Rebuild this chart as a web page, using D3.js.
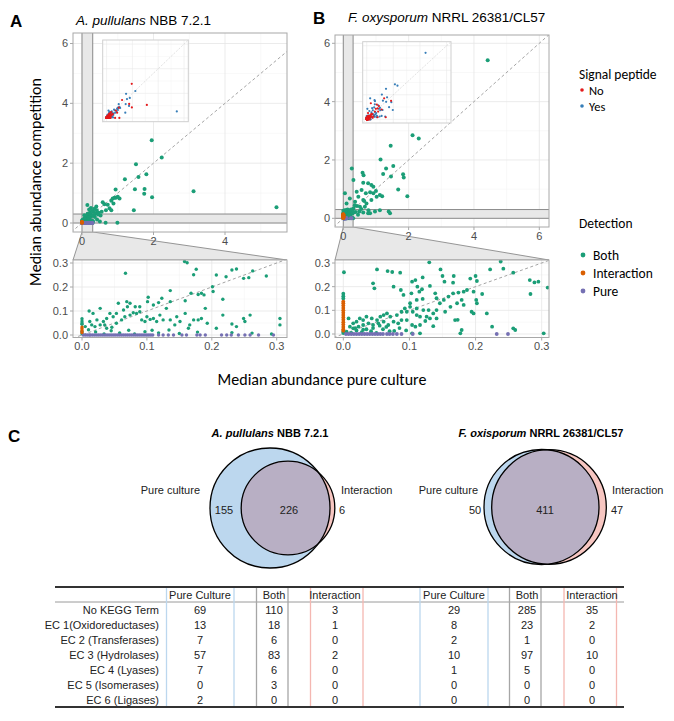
<!DOCTYPE html>
<html><head><meta charset="utf-8">
<script src="https://cdn.jsdelivr.net/npm/d3@7"></script>
<style>body{margin:0;background:#fff}svg{display:block}</style>
</head><body>
<svg id="fig" width="674" height="721"></svg>
<script>
// ---------------- DATA ----------------
// Panel A (A. pullulans) : Both = [pure, competition, signalPeptide(1=Yes)]
const aBoth = [
[1.95,2.77,0],[2.23,2.19,1],[1.51,1.96,1],[1.20,1.46,0],[1.58,1.54,1],[1.80,1.63,1],[0.94,1.12,1],[1.48,1.13,1],
[1.75,1.14,0],[1.74,0.98,1],[1.96,0.86,0],[3.12,1.06,0],[5.44,0.53,1],[1.45,0.43,1],[0.99,0.01,0],[0.58,0.69,1],
[0.63,0.63,1],[0.72,0.61,0],[0.82,0.74,1],[0.86,0.82,1],[0.91,0.84,1],[0.95,0.84,0],[1.00,0.88,1],[1.05,0.82,1],
[0.77,0.49,1],[0.82,0.43,0],[0.67,0.43,1],[0.55,0.38,1],[0.47,0.34,0],[0.41,0.43,1],[0.32,0.38,1],[0.22,0.34,0],
[0.15,0.60,1],[0.88,0.65,1],[0.66,0.01,0],[0.40,0.55,1],[0.35,0.48,0],[0.25,0.50,1],[0.38,0.32,1],[0.45,0.28,0],
[0.52,0.25,1],[0.36,0.20,0],[0.42,0.12,1],[0.50,0.05,1],[0.28,0.40,0],[0.20,0.45,1],[0.33,0.26,0],
[0.158,0.306,1],[0.162,0.301,0],[0.067,0.257,1],[0.176,0.274,1],[0.172,0.251,0],[0.207,0.250,1],[0.222,0.243,1],
[0.231,0.271,0],[0.238,0.275,1],[0.263,0.267,1],[0.249,0.236,0],[0.257,0.239,1],[0.284,0.246,1],[0.201,0.201,1],
[0.202,0.181,0],[0.217,0.149,1],[0.168,0.174,1],[0.179,0.169,0],[0.184,0.174,1],[0.188,0.167,0],[0.159,0.143,1],
[0.136,0.185,1],[0.123,0.153,0],[0.118,0.135,1],[0.102,0.157,0],[0.101,0.139,1],[0.110,0.125,0],[0.136,0.139,1],
[0.130,0.111,0],[0.146,0.076,1],[0.100,0.076,0],[0.089,0.097,1],[0.082,0.118,0],[0.074,0.132,1],[0.069,0.139,0],
[0.056,0.132,1],[0.070,0.118,0],[0.064,0.104,0],[0.053,0.090,1],[0.048,0.076,0],[0.043,0.090,0],[0.038,0.069,1],
[0.033,0.056,0],[0.028,0.111,0],[0.011,0.100,1],[0.017,0.090,0],[0.023,0.063,0],[0.012,0.056,1],[0.005,0.035,0],
[0.015,0.042,0],[0.020,0.035,1],[0.028,0.042,0],[0.035,0.042,0],[0.038,0.028,1],[0.046,0.032,0],[0.053,0.049,0],
[0.061,0.063,1],[0.066,0.076,0],[0.074,0.083,0],[0.079,0.093,1],[0.084,0.090,0],[0.089,0.118,1],[0.092,0.063,0],
[0.097,0.056,0],[0.105,0.065,1],[0.110,0.069,0],[0.115,0.056,1],[0.120,0.083,0],[0.125,0.063,1],[0.136,0.063,0],
[0.143,0.042,1],[0.151,0.056,0],[0.159,0.090,1],[0.166,0.042,0],[0.172,0.063,1],[0.179,0.063,0],[0.184,0.069,1],
[0.190,0.111,0],[0.193,0.049,1],[0.207,0.028,0],[0.217,0.083,1],[0.231,0.046,0],[0.238,0.035,1],[0.249,0.069,0],
[0.251,0.056,1],[0.259,0.083,0],[0.305,0.069,1],[0.305,0.042,0],[0.231,0.010,1],[0.262,0.008,0],[0.292,0.004,1],
[0.021,0.013,0],[0.034,0.004,0],[0.045,0.018,1],[0.058,0.009,0],[0.072,0.020,0],[0.081,0.004,1],[0.097,0.014,0],
[0.108,0.020,1],[0.118,0.009,0],[0.134,0.021,0],[0.150,0.006,1],[0.164,0.028,0],[0.178,0.012,1],[0.010,0.022,0],
[0.000,0.005,0],[0.000,0.015,0],[0.000,0.045,1],[0.000,0.050,0],[0.000,0.058,0],[0.000,0.068,1]
];
// Interaction only (pure culture = 0): [competition, signalPeptide]
const aInteraction = [[0.010,0],[0.018,0],[0.026,1],[0.033,0]];
// Pure only (competition = 0): [pure, signalPeptide]
const aPure = [[0.002,0],[0.005,0],[0.008,1],[0.011,0],[0.013,0],[0.016,1],[0.019,0],[0.022,0],[0.025,0],[0.028,1],
[0.031,0],[0.034,0],[0.037,1],[0.040,0],[0.043,0],[0.046,0],[0.049,1],[0.052,0],[0.055,0],[0.058,0],[0.061,1],
[0.064,0],[0.067,0],[0.070,0],[0.073,1],[0.076,0],[0.079,0],[0.082,1],[0.085,0],[0.088,0],[0.091,0],[0.094,1],
[0.097,0],[0.100,0],[0.103,1],[0.106,0],[0.109,0],[0.118,0],[0.125,1],[0.133,0],[0.141,0],[0.154,1],[0.161,0],
[0.177,0],[0.182,1],[0.190,0],[0.215,0],[0.223,1],[0.230,0],[0.241,0],[0.251,1],[0.259,0],[0.272,0],[0.295,0]];

// Panel B (F. oxysporum)
const bBoth = [
[4.42,5.42,1],[2.12,2.85,1],[2.31,2.74,1],[1.45,2.49,1],[1.14,2.02,1],[1.53,1.79,1],[1.31,1.71,0],[1.22,1.52,1],
[1.46,1.43,1],[1.83,1.51,0],[1.85,1.40,1],[1.68,0.99,1],[1.96,0.76,1],[0.26,1.71,1],[0.59,1.56,1],[0.62,1.48,1],
[0.31,1.31,0],[0.61,1.22,1],[0.76,1.20,0],[0.86,1.14,1],[0.92,1.08,0],[0.05,0.86,1],[0.69,0.86,0],[1.00,0.94,1],
[1.19,0.76,1],[1.39,0.23,1],[0.76,0.17,1],[0.42,0.42,0],[0.64,0.59,1],[0.41,0.91,1],[0.56,0.97,1],[0.82,0.89,0],
[0.46,0.74,1],[0.61,0.63,0],[0.36,0.57,1],[0.20,0.68,1],[0.10,0.51,0],[0.71,0.51,1],[0.86,0.63,0],[0.51,0.40,1],
[0.31,0.34,0],[1.02,0.74,1],[0.92,0.86,1],[1.12,0.80,0],[0.77,0.28,1],[0.61,0.20,1],[0.82,0.17,0],[0.97,0.23,1],
[1.12,0.28,1],[1.43,0.17,0],[0.66,0.40,1],[0.49,0.23,0],[0.38,0.22,1],[0.45,0.12,0],[0.55,0.32,1],[0.35,0.45,0],
[0.130,0.303,1],[0.147,0.273,0],[0.051,0.273,1],[0.067,0.266,1],[0.074,0.262,0],[0.086,0.259,1],[0.001,0.261,1],
[0.109,0.228,0],[0.104,0.221,1],[0.120,0.239,1],[0.150,0.245,0],[0.153,0.221,1],[0.167,0.245,1],[0.166,0.217,0],
[0.192,0.234,1],[0.200,0.245,1],[0.202,0.224,0],[0.222,0.273,1],[0.238,0.306,1],[0.242,0.276,0],[0.257,0.259,1],
[0.282,0.228,1],[0.289,0.218,0],[0.295,0.221,1],[0.283,0.169,1],[0.309,0.196,0],[0.045,0.214,1],[0.047,0.193,1],
[0.076,0.200,0],[0.087,0.186,1],[0.091,0.165,1],[0.103,0.172,0],[0.112,0.200,1],[0.115,0.179,1],[0.119,0.189,0],
[0.131,0.203,1],[0.139,0.172,1],[0.141,0.151,0],[0.120,0.148,1],[0.111,0.144,0],[0.101,0.130,1],[0.093,0.108,0],
[0.101,0.115,1],[0.105,0.094,0],[0.111,0.108,1],[0.121,0.101,0],[0.129,0.101,1],[0.136,0.087,0],[0.141,0.101,1],
[0.146,0.130,1],[0.152,0.144,0],[0.159,0.158,1],[0.166,0.172,1],[0.174,0.175,0],[0.182,0.179,1],[0.187,0.186,1],
[0.197,0.179,0],[0.202,0.130,1],[0.201,0.144,1],[0.210,0.169,0],[0.217,0.087,1],[0.179,0.144,1],[0.182,0.123,0],
[0.172,0.130,1],[0.162,0.115,0],[0.154,0.094,1],[0.141,0.066,0],[0.131,0.066,1],[0.126,0.073,0],[0.116,0.073,1],
[0.111,0.080,0],[0.096,0.094,1],[0.088,0.094,0],[0.081,0.080,1],[0.071,0.073,0],[0.066,0.087,1],[0.061,0.080,0],
[0.056,0.073,0],[0.051,0.059,1],[0.043,0.066,0],[0.035,0.073,1],[0.030,0.059,0],[0.025,0.066,0],[0.020,0.052,1],
[0.015,0.045,0],[0.008,0.066,1],[0.010,0.031,0],[0.015,0.024,0],[0.023,0.031,1],[0.030,0.038,0],[0.038,0.045,0],
[0.045,0.038,1],[0.053,0.045,0],[0.061,0.052,1],[0.068,0.038,0],[0.076,0.052,1],[0.083,0.045,0],[0.088,0.059,1],
[0.096,0.059,0],[0.104,0.038,1],[0.109,0.031,0],[0.116,0.038,1],[0.124,0.055,0],[0.169,0.059,1],[0.194,0.094,1],
[0.197,0.087,0],[0.179,0.017,1],[0.225,0.031,1],[0.260,0.017,1],[0.303,0.003,1],[0.077,0.013,0],[0.104,0.003,0],
[0.116,0.003,1],[0.177,0.003,0],[0.257,0.024,1],[0.136,0.033,0],[0.173,0.060,1],[0.005,0.010,0],[0.012,0.005,0],
[0.020,0.015,1],[0.028,0.008,0],[0.035,0.020,0],[0.042,0.012,1],[0.050,0.005,0],[0.018,0.025,0],[0.030,0.018,1],
[0.045,0.025,0],[0.060,0.020,1],[0.070,0.012,0],[0.065,0.030,0],[0.055,0.035,1],[0.085,0.025,0],[0.095,0.015,1],
[0.000,0.170,1],[0.000,0.160,0],[0.000,0.150,1],[0.000,0.004,0],[0.000,0.010,0]
];
const bInteraction = [[0.137,1],[0.130,0],[0.120,1],[0.110,0],[0.100,1],[0.090,0],[0.080,0],[0.070,1],[0.060,0],
[0.050,0],[0.040,1],[0.030,0],[0.020,0],[0.014,1]];
const bPure = [[0.004,0],[0.008,0],[0.012,1],[0.016,0],[0.020,0],[0.024,1],[0.028,0],[0.032,0],[0.036,1],[0.040,0],
[0.044,0],[0.048,1],[0.052,0],[0.056,0],[0.060,1],[0.066,0],[0.070,0],[0.075,1],[0.081,0],[0.088,0],[0.105,1],
[0.232,0],[0.249,1]];

// tick labels / categories
const topXTicksA = [0, 2, 4];
const topXTicksB = [0, 2, 4, 6];
const topYTicks = [0, 2, 4, 6];
const zoomTicks = [0, 0.1, 0.2, 0.3];
const detectionLabels = ["Both", "Interaction", "Pure"];
const signalLabels = ["No", "Yes"];

// Venn counts: [pure only, both, interaction only]
const vennA = [155, 226, 6];
const vennB = [50, 411, 47];
const vennSetLabels = ["Pure culture", "Interaction"];

// KEGG table
const keggRows = ["No KEGG Term","EC 1(Oxidoreductases)","EC 2 (Transferases)","EC 3 (Hydrolases)","EC 4 (Lyases)","EC 5 (Isomerases)","EC 6 (Ligases)"];
const keggCols = ["Pure Culture","Both","Interaction"];
const aPureKegg  = [69,13,7,57,7,0,2];
const aBothKegg  = [110,18,6,83,6,3,0];
const aInterKegg = [3,1,0,2,0,0,0];
const bPureKegg  = [29,8,2,10,1,0,0];
const bBothKegg  = [285,23,1,97,5,0,0];
const bInterKegg = [35,2,0,10,0,0,0];

// ---------------- DRAWING ----------------
const svg = d3.select("#fig");
const COL = {Both:"#1b9e77", Interaction:"#d95f02", Pure:"#7570b3"};
const SP = ["#e41a1c", "#377eb8"];
const SANS = "'Liberation Sans', Arial, sans-serif";
const CAL = "Carlito, Lato, 'Open Sans', sans-serif";
const NARROW = "'Liberation Sans Narrow', 'Arial Narrow', 'Liberation Sans', sans-serif";
let clipId = 0;

function panel(o){
  const g = svg.append("g");
  const x = d3.scaleLinear().domain(o.xd).range(o.xr);
  const y = d3.scaleLinear().domain(o.yd).range(o.yr);
  const [L,R,T,B] = o.box;
  const id = "clip"+(clipId++);
  svg.append("clipPath").attr("id",id).append("rect").attr("x",L).attr("y",T).attr("width",R-L).attr("height",B-T);
  g.append("rect").attr("x",L).attr("y",T).attr("width",R-L).attr("height",B-T).attr("fill","#fff");
  const inner = g.append("g").attr("clip-path",`url(#${id})`);
  inner.selectAll(".mx").data(o.xminor).join("line").attr("x1",d=>x(d)).attr("x2",d=>x(d)).attr("y1",T).attr("y2",B)
    .attr("stroke","#f0f0f0").attr("stroke-width",0.5);
  inner.selectAll(".my").data(o.yminor).join("line").attr("y1",d=>y(d)).attr("y2",d=>y(d)).attr("x1",L).attr("x2",R)
    .attr("stroke","#f0f0f0").attr("stroke-width",0.5);
  inner.selectAll(".gx").data(o.xt).join("line").attr("x1",d=>x(d)).attr("x2",d=>x(d)).attr("y1",T).attr("y2",B)
    .attr("stroke","#e6e6e6").attr("stroke-width",0.8);
  inner.selectAll(".gy").data(o.yt).join("line").attr("y1",d=>y(d)).attr("y2",d=>y(d)).attr("x1",L).attr("x2",R)
    .attr("stroke","#e6e6e6").attr("stroke-width",0.8);
  if (o.band){
    const b = o.band;
    inner.append("rect").attr("x",x(0)).attr("y",T).attr("width",x(b)-x(0)).attr("height",B-T).attr("fill","#e8e8e8");
    inner.append("rect").attr("x",L).attr("y",y(b)).attr("width",R-L).attr("height",y(0)-y(b)).attr("fill","#e8e8e8");
    [0,b].forEach(v=>{
      inner.append("line").attr("x1",x(v)).attr("x2",x(v)).attr("y1",T).attr("y2",B).attr("stroke","#8a8a8a").attr("stroke-width",1);
      inner.append("line").attr("y1",y(v)).attr("y2",y(v)).attr("x1",L).attr("x2",R).attr("stroke","#8a8a8a").attr("stroke-width",1);
    });
  }
  const lo = Math.min(x.invert(L), y.invert(B)), hi = Math.max(x.invert(R), y.invert(T));
  inner.append("line").attr("x1",x(lo)).attr("y1",y(lo)).attr("x2",x(hi)).attr("y2",y(hi))
    .attr("stroke","#9a9a9a").attr("stroke-width",0.9).attr("stroke-dasharray","3,2.5");
  const r = o.r;
  inner.selectAll(".pb").data(o.both).join("circle").attr("cx",d=>x(d[0])).attr("cy",d=>y(d[1])).attr("r",r).attr("fill",COL.Both);
  inner.selectAll(".pp").data(o.pure).join("circle").attr("cx",d=>x(d[0])).attr("cy",y(0)).attr("r",r).attr("fill",COL.Pure);
  inner.selectAll(".pi").data(o.inter).join("circle").attr("cx",x(0)).attr("cy",d=>y(d[0])).attr("r",r).attr("fill",COL.Interaction);
  g.append("rect").attr("x",L).attr("y",T).attr("width",R-L).attr("height",B-T).attr("fill","none").attr("stroke","#a8a8a8").attr("stroke-width",1);
  g.selectAll(".tx").data(o.xt).join("line").attr("x1",d=>x(d)).attr("x2",d=>x(d)).attr("y1",B).attr("y2",B+3).attr("stroke","#a8a8a8");
  g.selectAll(".ty").data(o.yt).join("line").attr("y1",d=>y(d)).attr("y2",d=>y(d)).attr("x1",L-3).attr("x2",L).attr("stroke","#a8a8a8");
  g.selectAll(".lx").data(o.xt).join("text").attr("x",d=>x(d)).attr("y",B+12.5).attr("text-anchor","middle")
    .attr("font-family",SANS).attr("font-size",11).attr("fill","#4d4d4d").text(o.fmt);
  g.selectAll(".ly").data(o.yt).join("text").attr("x",L-5).attr("y",d=>y(d)+3.9).attr("text-anchor","end")
    .attr("font-family",SANS).attr("font-size",11).attr("fill","#4d4d4d").text(o.fmt);
  return {x,y,g};
}

function inset(box, both, pure, inter){
  const [L,R,T,B] = box;
  const x = d3.scaleLinear().domain([-0.3,6.33]).range([L,R]);
  const y = d3.scaleLinear().domain([-0.3,6.33]).range([B,T]);
  const g = svg.append("g");
  g.append("rect").attr("x",L).attr("y",T).attr("width",R-L).attr("height",B-T).attr("fill","#fff");
  [1,3,5].forEach(v=>{
    g.append("line").attr("x1",x(v)).attr("x2",x(v)).attr("y1",T).attr("y2",B).attr("stroke","#f3f3f3").attr("stroke-width",0.5);
    g.append("line").attr("y1",y(v)).attr("y2",y(v)).attr("x1",L).attr("x2",R).attr("stroke","#f3f3f3").attr("stroke-width",0.5);
  });
  [0,2,4,6].forEach(v=>{
    g.append("line").attr("x1",x(v)).attr("x2",x(v)).attr("y1",T).attr("y2",B).attr("stroke","#e9e9e9").attr("stroke-width",0.6);
    g.append("line").attr("y1",y(v)).attr("y2",y(v)).attr("x1",L).attr("x2",R).attr("stroke","#e9e9e9").attr("stroke-width",0.6);
  });
  g.append("line").attr("x1",x(-0.3)).attr("y1",y(-0.3)).attr("x2",x(6.33)).attr("y2",y(6.33))
    .attr("stroke","#c4c4c4").attr("stroke-width",0.7).attr("stroke-dasharray","1,1.3");
  const pts = both.map(d=>[d[0],d[1],d[2]])
     .concat(pure.map(d=>[d[0],0,d[1]])).concat(inter.map(d=>[0,d[0],d[1]]));
  const ordered = pts.filter(d=>d[2]===1).concat(pts.filter(d=>d[2]===0));
  g.selectAll("circle").data(ordered).join("circle").attr("cx",d=>x(d[0])).attr("cy",d=>y(d[1])).attr("r",1.1)
    .attr("fill",d=>SP[d[2]]);
  g.append("rect").attr("x",L).attr("y",T).attr("width",R-L).attr("height",B-T).attr("fill","none").attr("stroke","#cfcfcf").attr("stroke-width",1);
}

function connector(topX0, topX1, topY, L, R, botY){
  svg.append("path").attr("d",`M${topX0},${topY} L${topX1},${topY} L${R},${botY} L${L},${botY} Z`)
    .attr("fill","#e8e8e8").attr("stroke","#8a8a8a").attr("stroke-width",0.9);
}

const fmtInt = d=>d3.format("d")(d);
const fmt1 = d=>d3.format(".1f")(d);

connector(82, 93, 232, 73, 287, 260);
connector(343.3, 353, 227, 335, 549, 260);

panel({box:[73,287,33,232], xd:[0,4], xr:[82,225], yd:[0,6], yr:[223,43.5],
  xt:topXTicksA, yt:topYTicks, xminor:[-1,1,3,5], yminor:[1,3,5], band:0.3,
  both:aBoth, pure:aPure, inter:aInteraction, r:2, fmt:fmtInt});
panel({box:[73,287,260,337.5], xd:[0,0.3], xr:[82,276.7], yd:[0,0.3], yr:[335,263],
  xt:zoomTicks, yt:zoomTicks, xminor:[0.05,0.15,0.25], yminor:[0.05,0.15,0.25],
  both:aBoth, pure:aPure, inter:aInteraction, r:1.7, fmt:fmt1});
panel({box:[335,549,35,227], xd:[0,6], xr:[343.3,539.3], yd:[0,6], yr:[218.3,43.3],
  xt:topXTicksB, yt:topYTicks, xminor:[1,3,5], yminor:[1,3,5], band:0.3,
  both:bBoth, pure:bPure, inter:bInteraction, r:2, fmt:fmtInt});
panel({box:[335,549,260,337.5], xd:[0,0.3], xr:[343.3,541.7], yd:[0,0.3], yr:[334,263],
  xt:zoomTicks, yt:zoomTicks, xminor:[0.05,0.15,0.25], yminor:[0.05,0.15,0.25],
  both:bBoth, pure:bPure, inter:bInteraction, r:1.9, fmt:fmt1});

inset([102.7,188.3,40,121.7], aBoth, aPure, aInteraction);
inset([362.7,451,41.7,123], bBoth, bPure, bInteraction);

function richTitle(x, y, italic, rest, size, anchor, bold){
  const t = svg.append("text").attr("x",x).attr("y",y).attr("font-family",SANS).attr("font-size",size)
    .attr("text-anchor",anchor||"start").attr("fill","#000").attr("font-weight",bold?"bold":"normal");
  t.append("tspan").attr("font-style","italic").text(italic);
  t.append("tspan").text(rest);
  return t;
}
svg.append("text").attr("x",10).attr("y",27).attr("font-family",SANS).attr("font-weight","bold").attr("font-size",17).text("A");
svg.append("text").attr("x",313).attr("y",24).attr("font-family",SANS).attr("font-weight","bold").attr("font-size",17).text("B");
richTitle(76, 25, "A. pullulans", " NBB 7.2.1", 13.5);
richTitle(348, 22, "F. oxysporum", " NRRL 26381/CL57", 13.5);

svg.append("text").attr("transform","translate(41,182) rotate(-90)").attr("text-anchor","middle")
  .attr("font-family",CAL).attr("font-size",16).text("Median abundance competition");
svg.append("text").attr("x",322).attr("y",385).attr("text-anchor","middle")
  .attr("font-family",CAL).attr("font-size",16).text("Median abundance pure culture");

svg.append("text").attr("x",579).attr("y",79).attr("font-family",CAL).attr("font-size",13.5).text("Signal peptide");
signalLabels.forEach((s,i)=>{
  svg.append("circle").attr("cx",582).attr("cy",90+i*16).attr("r",1.8).attr("fill",SP[i]);
  svg.append("text").attr("x",589).attr("y",94.5+i*16).attr("font-family",CAL).attr("font-size",12.5).text(s);
});
svg.append("text").attr("x",579).attr("y",228).attr("font-family",CAL).attr("font-size",13.5).text("Detection");
detectionLabels.forEach((s,i)=>{
  svg.append("circle").attr("cx",583).attr("cy",255+i*18).attr("r",2.4).attr("fill",COL[s]);
  svg.append("text").attr("x",593).attr("y",260+i*18).attr("font-family",CAL).attr("font-size",13.5).text(s);
});

// ---------------- Panel C ----------------
svg.append("text").attr("x",8).attr("y",442).attr("font-family",SANS).attr("font-weight","bold").attr("font-size",17).text("C");
richTitle(270, 437, "A. pullulans", " NBB 7.2.1", 11, "middle", true);
richTitle(541, 437, "F. oxisporum", " NRRL 26381/CL57", 11, "middle", true);

function venn(counts, cx, cy, Rmax, dx){
  const totPure = counts[0]+counts[1], totInter = counts[1]+counts[2];
  const rs = d3.scaleSqrt().domain([0, Math.max(totPure,totInter)]).range([0,Rmax]);
  const r1 = rs(totPure), r2 = rs(totInter);
  const c1 = [cx, cy], c2 = [cx+dx, cy];
  const id = "vc"+(clipId++);
  svg.append("clipPath").attr("id",id).append("circle").attr("cx",c1[0]).attr("cy",c1[1]).attr("r",r1);
  svg.append("circle").attr("cx",c1[0]).attr("cy",c1[1]).attr("r",r1).attr("fill","#bcd7ee");
  svg.append("circle").attr("cx",c2[0]).attr("cy",c2[1]).attr("r",r2).attr("fill","#f7c6c1");
  svg.append("circle").attr("cx",c2[0]).attr("cy",c2[1]).attr("r",r2).attr("fill","#b8afc4").attr("clip-path",`url(#${id})`);
  svg.append("circle").attr("cx",c1[0]).attr("cy",c1[1]).attr("r",r1).attr("fill","none").attr("stroke","#000").attr("stroke-width",1.3);
  svg.append("circle").attr("cx",c2[0]).attr("cy",c2[1]).attr("r",r2).attr("fill","none").attr("stroke","#000").attr("stroke-width",1.3);
  return {c1,c2,r1,r2};
}
venn(vennA, 270, 508, 60, 18);
venn(vennB, 541.5, 507, 57.5, 7.5);
function vtext(x,y,s,anchor){
  svg.append("text").attr("x",x).attr("y",y).attr("text-anchor",anchor).attr("font-family",NARROW)
    .attr("font-size",11).attr("fill","#222").text(s);
}
vtext(200, 494, vennSetLabels[0], "end");
vtext(341, 494, vennSetLabels[1], "start");
vtext(224, 514, vennA[0], "middle");
vtext(289, 514, vennA[1], "middle");
vtext(342, 514, vennA[2], "middle");
vtext(478, 494, vennSetLabels[0], "end");
vtext(612, 494, vennSetLabels[1], "start");
vtext(475, 514, vennB[0], "middle");
vtext(545, 514, vennB[1], "middle");
vtext(617, 514, vennB[2], "middle");

const tL = 55, tR = 624, tTop = 587, tHead = 602, tBot = 707;
const rowY = d3.scalePoint().domain(keggRows).range([609.5, 699.5]);
const colBoxes = [[166.5,234],[256.5,288],[310.5,363],[420,488],[509.5,541],[564,616.5]];
const colCenters = [200, 274, 335, 454, 527, 592];
const boxColors = ["#bcd7ee","#a6a6a6","#f4b7b1","#bcd7ee","#a6a6a6","#f4b7b1"];
const colData = [aPureKegg, aBothKegg, aInterKegg, bPureKegg, bBothKegg, bInterKegg];
svg.append("line").attr("x1",tL).attr("x2",tR).attr("y1",tHead).attr("y2",tHead).attr("stroke","#9a9a9a").attr("stroke-width",1);
colBoxes.forEach((b,i)=>{
  svg.append("rect").attr("x",b[0]).attr("y",tTop).attr("width",b[1]-b[0]).attr("height",tBot-tTop)
    .attr("fill","none").attr("stroke",boxColors[i]).attr("stroke-width",1.3);
  svg.append("text").attr("x",colCenters[i]).attr("y",598.5).attr("text-anchor","middle").attr("font-family",NARROW)
    .attr("font-size",11).attr("fill","#222").text(keggCols[i%3]);
  colData[i].forEach((v,j)=>{
    svg.append("text").attr("x",colCenters[i]).attr("y",rowY(keggRows[j])+4).attr("text-anchor","middle")
      .attr("font-family",NARROW).attr("font-size",11).attr("fill","#222").text(v);
  });
});
keggRows.forEach(r=>{
  svg.append("text").attr("x",159).attr("y",rowY(r)+4).attr("text-anchor","end").attr("font-family",NARROW)
    .attr("font-size",11).attr("fill","#222").text(r);
});
svg.append("line").attr("x1",tL).attr("x2",tR).attr("y1",tTop).attr("y2",tTop).attr("stroke","#333").attr("stroke-width",2);
svg.append("line").attr("x1",tL).attr("x2",tR).attr("y1",tBot).attr("y2",tBot).attr("stroke","#333").attr("stroke-width",2);
</script>
</body></html>
